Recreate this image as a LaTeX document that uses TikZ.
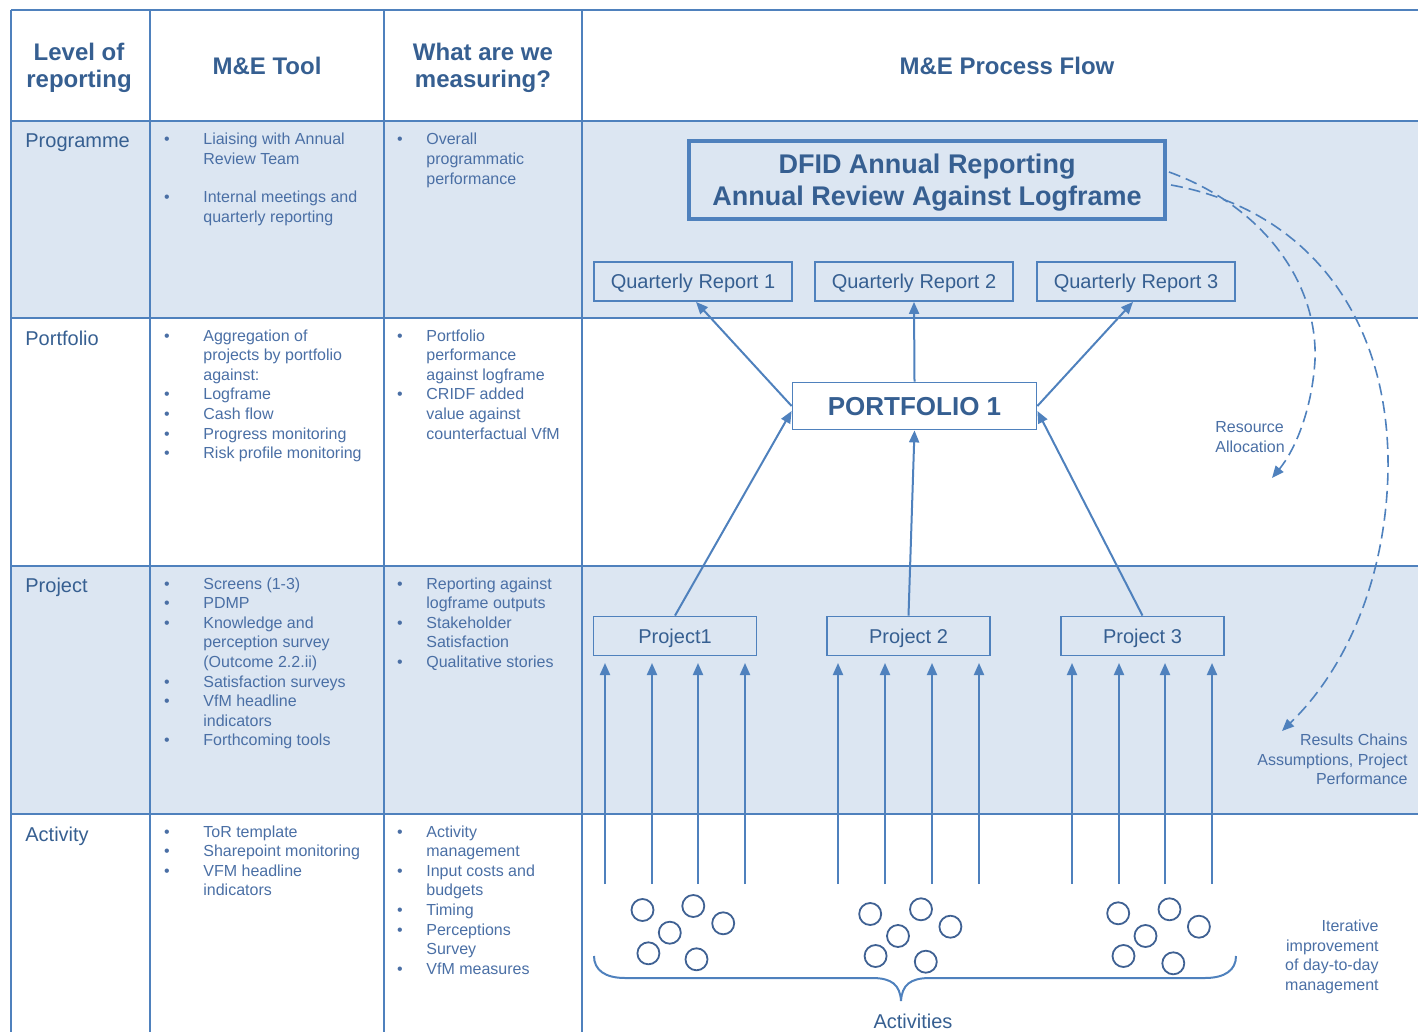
\documentclass[tikz,border=0pt]{standalone}
\usepackage{fontspec}
\setmainfont{Liberation Sans}
\usetikzlibrary{arrows.meta}
\definecolor{lineblue}{HTML}{4F81BD}
\definecolor{cellshade}{HTML}{DCE6F2}
\definecolor{hdr}{HTML}{365F91}
\definecolor{txt}{HTML}{4A6FA5}
\definecolor{circ}{HTML}{3F6193}
\newcommand\listcol[6]{%
  \foreach \s [count=\ii from 0] in {#5}{\node[body] (#1-\ii) at (#2,#4+\ii*19.6) {\s};}%
  \foreach \ii in {#6}{\node[bul] (#1-b\ii) at (#3,#4+\ii*19.6) {\textbullet};}%
}
\begin{document}
\begin{tikzpicture}[x=0.5pt,y=-0.5pt,
  grid/.style={draw=lineblue,line width=1.1pt},
  body/.style={inner sep=0pt,anchor=base west,font=\fontsize{8}{9.8}\selectfont,text=txt},
  bul/.style={inner sep=0pt,anchor=base,font=\fontsize{8}{9.8}\selectfont,text=txt},
  rowlbl/.style={inner sep=0pt,anchor=base west,font=\fontsize{10}{12}\selectfont,text=hdr},
  hdrtxt/.style={inner sep=0pt,anchor=base,font=\bfseries\fontsize{12}{13.4}\selectfont,text=hdr},
  side/.style={inner sep=0pt,font=\fontsize{8}{9.8}\selectfont,text=txt},
  box/.style={draw=lineblue,line width=0.9pt,inner sep=0pt,text depth=0pt,font=\fontsize{10}{12}\selectfont,text=hdr},
  arr/.style={draw=lineblue,line width=1pt,-{Triangle[length=6pt,width=5pt]}},
  darr/.style={draw=lineblue,line width=0.8pt,dash pattern=on 6pt off 3pt,-{Triangle[length=6pt,width=5pt]}},
  bubble/.style={circle,draw=circ,line width=0.9pt,minimum size=11pt,inner sep=0pt},
]
\useasboundingbox (0,0) rectangle (1418,1032);
% table
\begin{scope}
\clip (0,0) rectangle (1418,1032);
\fill[cellshade] (11,121) rectangle (1418,318);
\fill[cellshade] (11,566) rectangle (1418,814);
\foreach \yy in {10,121,318,566,814} \draw[grid] (11,\yy) -- (1418,\yy);
\foreach \xx in {11,150,384,582} \draw[grid] (\xx,10) -- (\xx,1040);
\end{scope}
% headers
\node[hdrtxt] (h1a) at (79,61) {Level of};
\node[hdrtxt] (h1b) at (79,88) {reporting};
\node[hdrtxt] (h2) at (267,75) {M\&E Tool};
\node[hdrtxt] (h3a) at (483,61) {What are we};
\node[hdrtxt] (h3b) at (483,88) {measuring?};
\node[hdrtxt] (h4) at (1007,75) {M\&E Process Flow};
% row labels
\node[rowlbl] (r1) at (25,148) {Programme};
\node[rowlbl] (r2) at (25,345) {Portfolio};
\node[rowlbl] (r3) at (25,592) {Project};
\node[rowlbl] (r4) at (25,841) {Activity};
% lists
\listcol{pga}{203}{167}{145}{Liaising with Annual,Review Team}{0}
\listcol{pgb}{203}{167}{203}{Internal meetings and,quarterly reporting}{0}
\listcol{pgc}{426}{400}{145}{Overall,programmatic,performance}{0}
\listcol{pfa}{203}{167}{341}{Aggregation of,projects by portfolio,against:,Logframe,Cash flow,Progress monitoring,Risk profile monitoring}{0,3,4,5,6}
\listcol{pfb}{426}{400}{341}{Portfolio,performance,against logframe,CRIDF added,value against,counterfactual VfM}{0,3}
\listcol{pja}{203}{167}{589}{Screens (1-3),PDMP,Knowledge and,perception survey,(Outcome 2.2.ii),Satisfaction surveys,VfM headline,indicators,Forthcoming tools}{0,1,2,5,6,8}
\listcol{pjb}{426}{400}{589}{Reporting against,logframe outputs,Stakeholder,Satisfaction,Qualitative stories}{0,2,4}
\listcol{aca}{203}{167}{837}{ToR template,Sharepoint monitoring,VFM headline,indicators}{0,1,2}
\listcol{acb}{426}{400}{837}{Activity,management,Input costs and,budgets,Timing,Perceptions,Survey,VfM measures}{0,2,4,5,7}
% flow nodes
\node[box,line width=2pt,minimum width=238pt,minimum height=39pt,align=center,
      font=\bfseries\fontsize{13.5}{16}\selectfont] (dfid) at (927,180)
      {DFID Annual Reporting\\Annual Review Against Logframe};
\node[box,minimum width=99pt,minimum height=19.5pt] (q1) at (693,281.5) {Quarterly Report 1};
\node[box,minimum width=99pt,minimum height=19.5pt] (q2) at (914,281.5) {Quarterly Report 2};
\node[box,minimum width=99pt,minimum height=19.5pt] (q3) at (1136,281.5) {Quarterly Report 3};
\node[box,minimum width=122pt,minimum height=23.5pt,font=\bfseries\fontsize{13}{15}\selectfont] (pf) at (914.5,406) {PORTFOLIO 1};
\node[box,minimum width=81.5pt,minimum height=19.5pt] (p1) at (675,636) {Project1};
\node[box,minimum width=81.5pt,minimum height=19.5pt] (p2) at (908.5,636) {Project 2};
\node[box,minimum width=81.5pt,minimum height=19.5pt] (p3) at (1142.5,636) {Project 3};
% arrows up to quarterly reports
\draw[arr] (pf.west) -- ([xshift=1.5pt]q1.south);
\draw[arr] (pf.north) -- (q2.south);
\draw[arr] (pf.east) -- ([xshift=-1.5pt]q3.south);
% arrows from projects
\draw[arr] (p1.north) -- ([yshift=-2.5pt]pf.west);
\draw[arr] (p2.north) -- (pf.south);
\draw[arr] (p3.north) -- ([yshift=-2.5pt]pf.east);
% activity arrows
\foreach \xx [count=\ii] in {605,652,698,745,838,885,932,979,1072,1119,1165,1212}{
  \coordinate (ab\ii) at (\xx,884);
  \coordinate (at\ii) at (\xx,663);
  \draw[arr] (ab\ii) -- (at\ii);
}
% activity bubbles
\foreach \cx/\cy [count=\ii] in {642.5/910,693.3/906,723.2/923.3,669.8/932.7,648.4/953.3,696.5/959.3,
  870.2/914,921/909.3,950.4/926.7,898/936,875.6/956,925.8/961.7,
  1118.2/913.3,1169.5/909.3,1198.9/926.7,1145.5/936,1123.5/956,1173.3/963.3}
  \node[bubble] (c\ii) at (\cx,\cy) {};
% brace
\draw[draw=lineblue,line width=1pt] (594,956) .. controls (594,970) and (605,978) .. (625,978)
  -- (872,978) .. controls (892,978) and (900,985) .. (901,1001)
  .. controls (902,985) and (910,978) .. (930,978)
  -- (1205,978) .. controls (1225,978) and (1236,970) .. (1236,956);
\node[inner sep=0pt,anchor=base,font=\fontsize{10}{12}\selectfont,text=hdr] (acts) at (913,1028) {Activities};
% dashed feedback curves
\coordinate (ra) at (1272,478);
\coordinate (rc) at (1282,731);
\draw[darr] ([xshift=1pt,yshift=4pt]dfid.east) .. controls (1260,205) and (1318,280) .. (1315,360)
  .. controls (1312,410) and (1295,450) .. (ra);
\draw[darr] ([xshift=2pt,yshift=-2.5pt]dfid.east) .. controls (1310,210) and (1390,320) .. (1388,470)
  .. controls (1386,580) and (1345,670) .. (rc);
% side labels
\node[side,anchor=base west] (ra1) at (1215,432.5) {Resource};
\node[side,anchor=base west] (ra2) at (1215,452) {Allocation};
\node[side,anchor=base east] (rc1) at (1408,745) {Results Chains};
\node[side,anchor=base east] (rc2) at (1408,765) {Assumptions, Project};
\node[side,anchor=base east] (rc3) at (1408,784) {Performance};
\node[side,anchor=base east] (it1) at (1379,931.5) {Iterative};
\node[side,anchor=base east] (it2) at (1379,951) {improvement};
\node[side,anchor=base east] (it3) at (1379,970.5) {of day-to-day};
\node[side,anchor=base east] (it4) at (1379,990) {management};
\end{tikzpicture}
\end{document}
